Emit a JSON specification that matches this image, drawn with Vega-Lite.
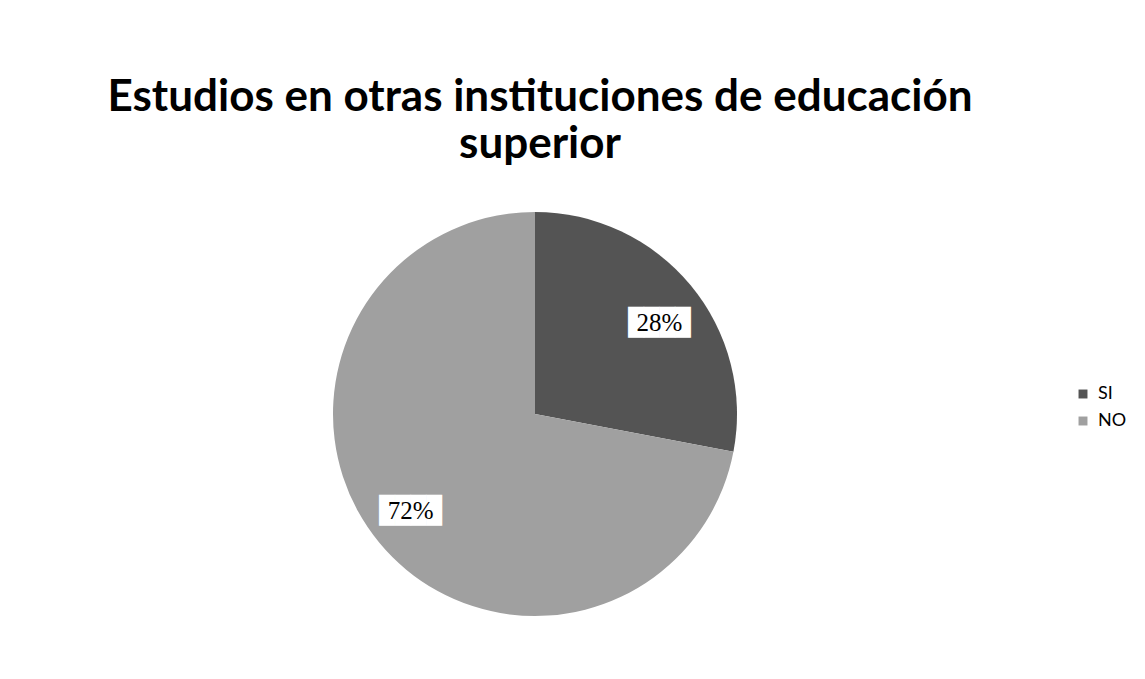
{
  "$schema": "https://vega.github.io/schema/vega-lite/v6.json",
  "width": 404,
  "height": 404,
  "autosize": {"type": "none"},
  "padding": {"left": 333, "top": 212, "right": 408, "bottom": 63},
  "background": "white",
  "config": {"view": {"stroke": null}},
  "title": {
    "text": ["Estudios en otras instituciones de educación", "superior"],
    "font": "Lato",
    "fontSize": 44,
    "fontWeight": "bold",
    "color": "#000000",
    "anchor": "middle",
    "frame": "group",
    "lineHeight": 47,
    "offset": 45,
    "dx": 5
  },
  "data": {
    "values": [
      {"respuesta": "SI", "porcentaje": 28, "etiqueta": "28%"},
      {"respuesta": "NO", "porcentaje": 72, "etiqueta": "72%"}
    ]
  },
  "encoding": {
    "theta": {"field": "porcentaje", "type": "quantitative", "stack": true},
    "order": {"field": "respuesta", "type": "nominal", "sort": "descending"}
  },
  "layer": [
    {
      "mark": {"type": "arc", "outerRadius": 202, "stroke": null},
      "encoding": {
        "color": {
          "field": "respuesta",
          "type": "nominal",
          "sort": ["SI", "NO"],
          "scale": {"domain": ["SI", "NO"], "range": ["#545454", "#a0a0a0"]},
          "legend": {
            "title": null,
            "orient": "none",
            "legendX": 741,
            "legendY": 173,
            "symbolType": "square",
            "symbolSize": 80,
            "labelFont": "Lato",
            "labelFontSize": 18,
            "labelColor": "#000000",
            "rowPadding": 9,
            "labelOffset": 6
          }
        }
      }
    },
    {
      "mark": {"type": "text", "radius": 156, "thetaOffset": 0.044, "font": "DejaVu Sans Mono", "fontSize": 26, "color": "white", "baseline": "middle", "align": "center", "dy": 3},
      "encoding": {"text": {"value": "████"}}
    },
    {
      "mark": {"type": "text", "radius": 156, "thetaOffset": 0.044, "font": "Liberation Serif", "fontSize": 25, "color": "black", "baseline": "middle", "align": "center", "dy": 3},
      "encoding": {"text": {"field": "etiqueta", "type": "nominal"}}
    }
  ]
}
